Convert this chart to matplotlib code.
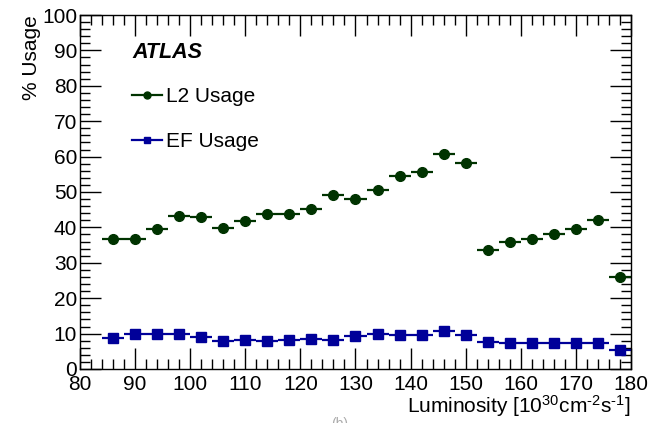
import numpy as np
import matplotlib
matplotlib.use('Agg')
import matplotlib.pyplot as plt
from matplotlib.ticker import MultipleLocator
from matplotlib.lines import Line2D

plt.rcParams['font.family'] = ['Liberation Sans', 'DejaVu Sans']
plt.rcParams['mathtext.fontset'] = 'custom'
plt.rcParams['mathtext.rm'] = 'Liberation Sans'
plt.rcParams['mathtext.it'] = 'Liberation Sans:italic'

# bin centres and half widths
lumi = [86, 90, 94, 98, 102, 106, 110, 114, 118, 122, 126, 130,
        134, 138, 142, 146, 150, 154, 158, 162, 166, 170, 174, 178]
bin_half = 2

l2_usage = [36.6, 36.8, 39.5, 43.2, 42.8, 39.9, 41.7, 43.7, 43.7, 45.1, 49.1, 48.1,
            50.5, 54.5, 55.6, 60.6, 58.1, 33.7, 36.0, 36.6, 38.2, 39.6, 42.2, 25.9]
l2_err = [0.3] * 15 + [1.5] + [0.3] * 8

ef_usage = [8.8, 9.9, 9.8, 9.8, 9.0, 7.8, 8.2, 8.0, 8.1, 8.4, 8.3, 9.4,
            9.9, 9.5, 9.7, 10.7, 9.6, 7.5, 7.4, 7.3, 7.2, 7.4, 7.3, 5.5]
ef_err = [0.3] * 24

l2_color = '#003300'
ef_color = '#000099'

fig = plt.figure(figsize=(6.59, 4.23), dpi=100)
ax = fig.add_axes([0.1214, 0.1277, 0.8361, 0.8368])

ax.errorbar(lumi, l2_usage, xerr=bin_half, yerr=l2_err, fmt='o', color=l2_color,
            markersize=7, elinewidth=1.6, capsize=0)
ax.errorbar(lumi, ef_usage, xerr=bin_half, yerr=ef_err, fmt='s', color=ef_color,
            markersize=6.5, elinewidth=1.6, capsize=0)

ax.set_xlim(80, 180)
ax.set_ylim(0, 100)
ax.xaxis.set_major_locator(MultipleLocator(10))
ax.xaxis.set_minor_locator(MultipleLocator(2))
ax.yaxis.set_major_locator(MultipleLocator(10))
ax.yaxis.set_minor_locator(MultipleLocator(2))
ax.tick_params(which='both', direction='in', top=True, right=True, labelsize=15, width=1)
ax.tick_params(which='major', length=15)
ax.tick_params(which='minor', length=7.5)
ax.tick_params(axis='x', which='major', pad=4)
ax.tick_params(axis='y', which='major', pad=2)
for s in ax.spines.values():
    s.set_linewidth(1)

ax.set_xlabel('Luminosity [10$^{30}$cm$^{\u2010 2}$s$^{\u2010 1}$]', fontsize=15, loc='right', labelpad=0)
ax.set_ylabel('% Usage', fontsize=15, loc='top', labelpad=1)

ax.text(0.095, 0.895, 'ATLAS', transform=ax.transAxes, fontsize=15.5,
        fontweight='bold', style='italic', va='center')

handles = [Line2D([], [], color=l2_color, marker='o', markersize=5, lw=1.6),
           Line2D([], [], color=ef_color, marker='s', markersize=5, lw=1.6)]
ax.legend(handles, ['L2 Usage', 'EF Usage'], loc='upper left', bbox_to_anchor=(0.095, 0.797),
          frameon=False, fontsize=15, handlelength=1.4, handletextpad=0.2,
          labelspacing=1.25, borderaxespad=0, borderpad=0)

fig.text(0.515, -0.018, '(b)', color='#aaaaaa', fontsize=10, ha='center', va='bottom')

fig.savefig('out.png', dpi=100)
